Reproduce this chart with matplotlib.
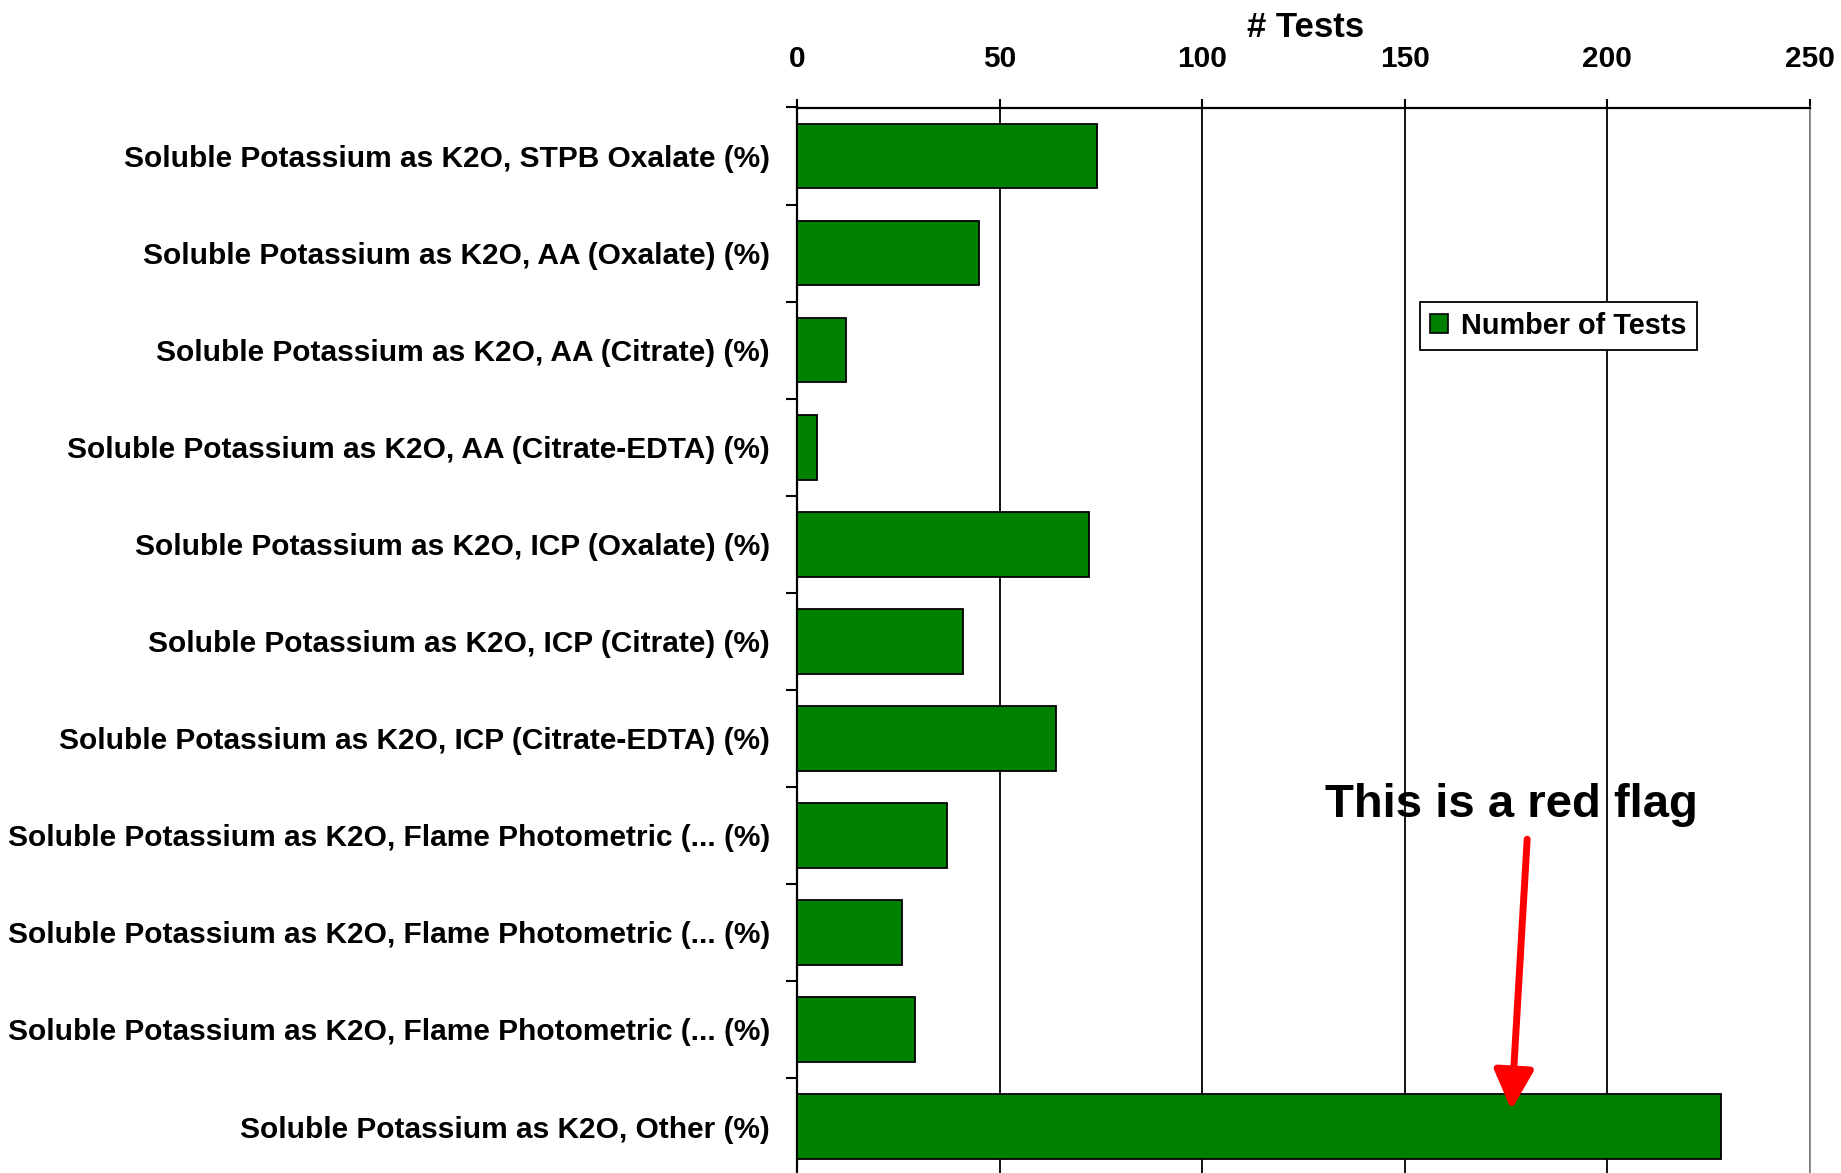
import numpy as np
import matplotlib
matplotlib.use("Agg")
import matplotlib.pyplot as plt
from matplotlib.patches import Patch

plt.rcParams['font.family'] = ['Liberation Sans', 'DejaVu Sans']
plt.rcParams['font.weight'] = 'bold'

categories = [
    "Soluble Potassium as K2O, STPB Oxalate (%)",
    "Soluble Potassium as K2O, AA (Oxalate) (%)",
    "Soluble Potassium as K2O, AA (Citrate) (%)",
    "Soluble Potassium as K2O, AA (Citrate-EDTA) (%)",
    "Soluble Potassium as K2O, ICP (Oxalate) (%)",
    "Soluble Potassium as K2O, ICP (Citrate) (%)",
    "Soluble Potassium as K2O, ICP (Citrate-EDTA) (%)",
    "Soluble Potassium as K2O, Flame Photometric (... (%)",
    "Soluble Potassium as K2O, Flame Photometric (... (%)",
    "Soluble Potassium as K2O, Flame Photometric (... (%)",
    "Soluble Potassium as K2O, Other (%)",
]
num_tests = [74, 45, 12, 5, 72, 41, 64, 37, 26, 29, 228]
x_ticks = [0, 50, 100, 150, 200, 250]
series_name = "Number of Tests"
axis_title = "# Tests"
annotation_text = "This is a red flag"

W, H = 1841, 1173
fig = plt.figure(figsize=(W / 100, H / 100), dpi=100)
fig.patch.set_facecolor('white')

top_px = 107.5
band_px = 97.05
n = len(categories)
bottom_px = top_px + n * band_px
left_px, right_px = 797, 1810
ax = fig.add_axes([left_px / W, 1 - bottom_px / H,
                   (right_px - left_px) / W, (bottom_px - top_px) / H])

y = np.arange(n)
ax.barh(y, num_tests, height=0.667, color='#008000', edgecolor='black',
        linewidth=1.3, label=series_name, zorder=3)

ax.set_xlim(0, 250)
ax.set_ylim(n - 0.5, -0.5)

ax.xaxis.tick_top()
ax.set_xticks(x_ticks)
ax.set_xticklabels([str(t) for t in x_ticks])
ax.tick_params(axis='x', which='major', direction='out', length=6.5, width=1.5,
               pad=18.5, labelsize=21.5, colors='black')
ax.grid(axis='x', color='black', linewidth=1.3, zorder=0)
ax.set_axisbelow(True)

# y ticks: marks at the band boundaries, labels at band centres
ax.set_yticks(np.arange(-0.5, n, 1.0))
ax.set_yticklabels([])
ax.set_yticks(y, minor=True)
ax.set_yticklabels(categories, minor=True)
ax.tick_params(axis='y', which='major', direction='out', length=8, width=1.5)
ax.tick_params(axis='y', which='minor', length=0, pad=19.5, labelsize=21.5)

for s in ['top', 'left']:
    ax.spines[s].set_linewidth(1.6)
    ax.spines[s].set_color('black')
ax.spines['right'].set_color('#888888')
ax.spines['right'].set_linewidth(1.3)
ax.spines['bottom'].set_visible(False)

ax.set_xlabel(axis_title, fontsize=25, fontweight='bold')
ax.xaxis.set_label_position('top')
ax.xaxis.set_label_coords(((left_px + right_px) / 2 + 2) / W, 1 - 36.7 / H,
                          transform=fig.transFigure)
ax.xaxis.label.set_va('baseline')

handle = Patch(facecolor='#008000', edgecolor='black', linewidth=1.2)
leg = ax.legend([handle], [series_name], loc='upper left',
                bbox_to_anchor=(1420 / W, 1 - 301.7 / H),
                bbox_transform=fig.transFigure, borderaxespad=0,
                fancybox=False, shadow=False, framealpha=1,
                edgecolor='black', handlelength=0.62,
                handleheight=0.62, handletextpad=0.45, borderpad=0.35,
                prop={'weight': 'bold', 'size': 20.8})
leg.get_frame().set_linewidth(1.3)

ax.text(176.3, 6.81, annotation_text, ha='center', va='baseline',
        fontsize=34, fontweight='bold', color='black', zorder=5)
ax.annotate('', xy=(176.3, 9.83), xytext=(180.2, 7.04),
            arrowprops=dict(arrowstyle='-|>,head_length=1.2,head_width=0.6',
                            color='#ff0000', lw=5, shrinkA=0, shrinkB=0,
                            mutation_scale=20),
            zorder=6)

fig.savefig('out.png', dpi=100, facecolor='white')
